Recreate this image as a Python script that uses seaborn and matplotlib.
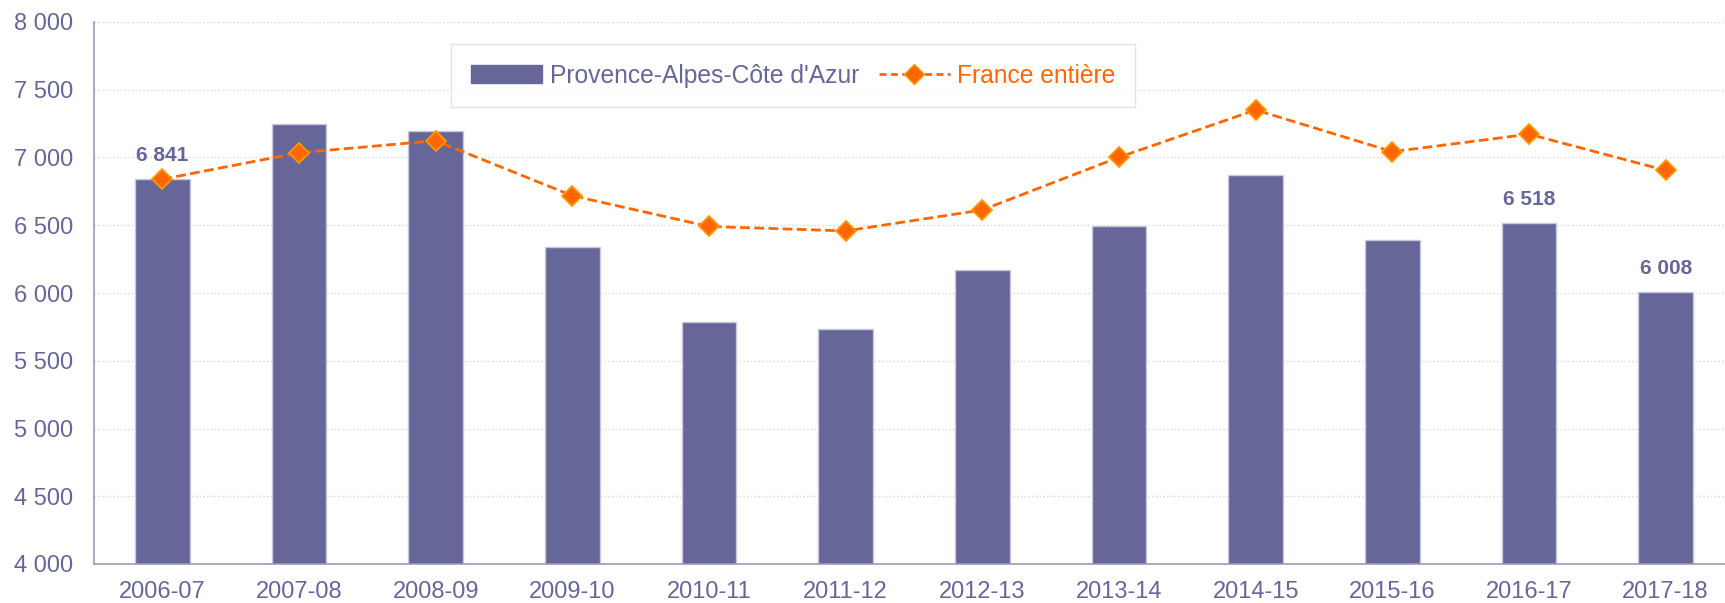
import matplotlib
matplotlib.use("Agg")
import matplotlib.pyplot as plt
from matplotlib.patches import Patch
from matplotlib.lines import Line2D
from matplotlib.ticker import FixedLocator, FuncFormatter
import seaborn as sns

# ---------------------------------------------------------------------------
# Data
# ---------------------------------------------------------------------------
seasons = ["2006-07", "2007-08", "2008-09", "2009-10", "2010-11", "2011-12",
           "2012-13", "2013-14", "2014-15", "2015-16", "2016-17", "2017-18"]
paca = [6841, 7248, 7198, 6338, 5783, 5737, 6172, 6498, 6872, 6394, 6518, 6008]
france = [6840, 7035, 7124, 6718, 6491, 6458, 6613, 7002, 7351, 7043, 7172, 6905]
labelled = ["2006-07", "2016-17", "2017-18"]

PURPLE = "#666699"
ORANGE = "#FF6600"
AXIS = "#9999bb"

sns.set_style("white")
plt.rcParams["font.family"] = ["Liberation Sans", "DejaVu Sans"]

fig = plt.figure(figsize=(17.25, 6.03), dpi=100)
ax = fig.add_axes([94 / 1725, 39 / 603, 1640 / 1725, 542 / 603])

sns.barplot(x=seasons, y=paca, color=PURPLE, saturation=1, width=0.4,
            edgecolor="#c8c8dc", linewidth=1, ax=ax, zorder=2)
sns.pointplot(x=seasons, y=france, color=ORANGE, linestyles="--", markers="D",
              linewidth=2, markersize=10, ax=ax, zorder=3,
              markeredgecolor="#FF9900", markeredgewidth=1.3)
for line in ax.lines:
    line.set_dashes((3.5, 1.6))

# data labels
for i, (s, v) in enumerate(zip(seasons, paca)):
    if s in labelled:
        ax.text(i, v + 105, f"{v:,}".replace(",", " "), ha="center", va="bottom",
                fontsize=15, fontweight="bold", color=PURPLE, zorder=4)

ax.set_ylim(4000, 8000)
ax.set_xlim(-0.5, 11.5)
ax.yaxis.set_major_locator(FixedLocator(range(4000, 8001, 500)))
ax.yaxis.set_major_formatter(FuncFormatter(lambda v, p: f"{int(v):,}".replace(",", " ")))
ax.grid(axis="y", color="#dcdcdc", linestyle=(0, (1.2, 1.5)), linewidth=1, zorder=0)
ax.set_axisbelow(True)

ax.xaxis.set_minor_locator(FixedLocator([i - 0.5 for i in range(len(seasons) + 1)]))
ax.tick_params(axis="x", which="major", length=0, pad=12, labelsize=17, labelcolor=PURPLE)
ax.tick_params(axis="x", which="minor", length=11.5, direction="inout", color=AXIS, width=1)
ax.tick_params(axis="y", which="major", length=10, direction="inout", color=AXIS,
               width=1, pad=10, labelsize=17, labelcolor=PURPLE)

sns.despine(ax=ax, top=True, right=True)
for side in ("left", "bottom"):
    ax.spines[side].set_color(AXIS)
    ax.spines[side].set_linewidth(1.2)

handles = [
    Patch(facecolor=PURPLE, edgecolor=PURPLE),
    Line2D([0], [0], color=ORANGE, linestyle="--", dashes=(2.5, 1.6), linewidth=2, marker="D",
           markersize=10, markerfacecolor=ORANGE, markeredgecolor="#FF9900"),
]
leg = ax.legend(handles, ["Provence-Alpes-Côte d'Azur", "France entière"], ncol=2,
                loc="upper left", bbox_to_anchor=(0.2178, 0.9594), borderaxespad=0,
                fontsize=17.7, frameon=True, fancybox=False, edgecolor="#dddddd",
                borderpad=0.8, handlelength=2.9, handleheight=0.7, handletextpad=0.3,
                columnspacing=0.8, labelcolor=[PURPLE, ORANGE])
leg.get_frame().set_linewidth(1)
leg.set_zorder(5)

fig.savefig("out.png", dpi=100)
